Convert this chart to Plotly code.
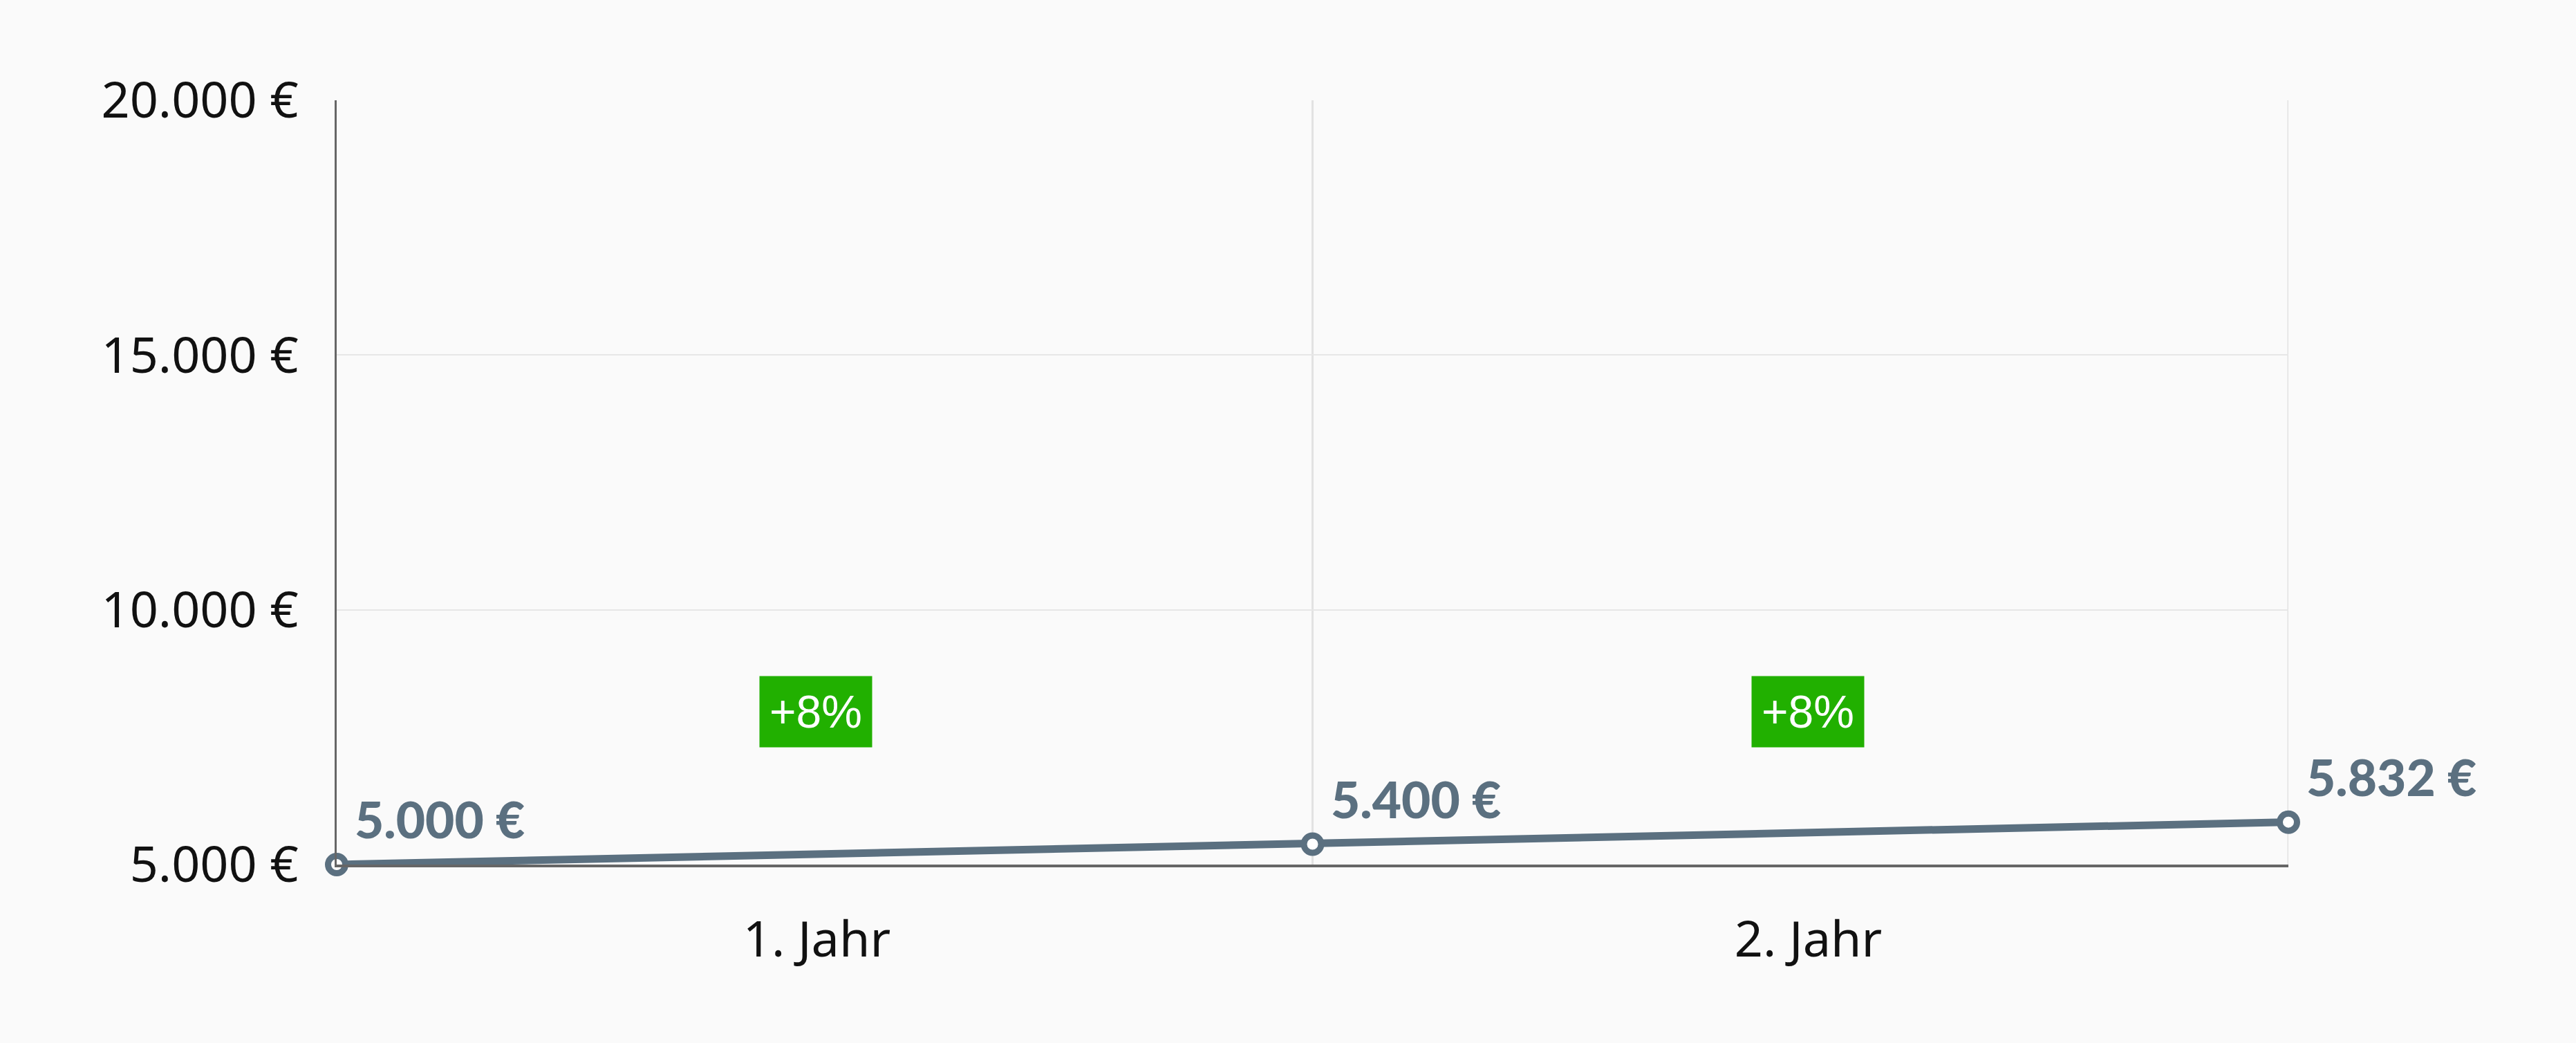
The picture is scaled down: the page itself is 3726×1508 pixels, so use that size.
import plotly.graph_objects as go

# Data
years_x = [0, 1, 2]
values = [5000, 5400, 5832]
value_labels = ["5.000 €", "5.400 €", "5.832 €"]
growth_x = [0.5, 1.5]
growth_y = [8000, 8000]
growth_labels = ["+8%", "+8%"]
xtick_vals = [0.492, 1.508]
xtick_text = ["1. Jahr", "2. Jahr"]
ytick_vals = [5000, 10000, 15000, 20000]
ytick_text = ["5.000 €", "10.000 €", "15.000 €", "20.000 €"]

LINE = "#5b7080"
GREEN = "#21b000"
BG = "#fafafa"

fig = go.Figure()
fig.add_trace(go.Scatter(
    x=years_x, y=values, mode="lines+markers",
    line=dict(color=LINE, width=11),
    marker=dict(size=25, color="white", line=dict(color=LINE, width=9)),
    cliponaxis=False, showlegend=False, hoverinfo="skip",
))

annotations = []
for x, y, t in zip(years_x, values, value_labels):
    annotations.append(dict(
        x=x, y=y, xref="x", yref="y", text=t, showarrow=False,
        xanchor="left", yanchor="middle", xshift=24, yshift=66,
        font=dict(family="Lato", size=73, color=LINE, weight=900),
    ))
box_shifts = [-13, 11]
for x, y, t, s in zip(growth_x, growth_y, growth_labels, box_shifts):
    annotations.append(dict(
        x=x, y=y, xref="x", yref="y", text=t, showarrow=False,
        xanchor="center", yanchor="middle", xshift=s,
        bgcolor=GREEN, borderpad=14,
        font=dict(family="Liberation Sans", size=66, color="white"),
    ))

fig.update_layout(
    width=3726, height=1508,
    paper_bgcolor=BG, plot_bgcolor=BG,
    margin=dict(l=487, r=416, t=145, b=258),
    annotations=annotations,
    font=dict(family="Noto Sans", size=72, color="#111111"),
    hovermode=False,
)
fig.update_xaxes(
    range=[0, 2], tickvals=xtick_vals, ticktext=xtick_text,
    showgrid=False, zeroline=False,
    showline=True, linecolor="#666666", linewidth=4,
    ticks="", ticklabelstandoff=43,
    tickfont=dict(family="Noto Sans", size=72, color="#111111"),
)
# vertical gridlines at year boundaries
for xv in [1, 2]:
    fig.add_shape(type="line", xref="x", yref="paper", x0=xv, x1=xv, y0=0, y1=1,
                  line=dict(color="#e2e2e2", width=3), layer="below")
fig.update_yaxes(
    range=[5000, 20000], tickvals=ytick_vals, ticktext=ytick_text,
    showgrid=True, gridcolor="#e6e6e6", gridwidth=2, zeroline=False,
    showline=True, linecolor="#666666", linewidth=3,
    ticks="", ticklabelstandoff=38,
    tickfont=dict(family="Noto Sans", size=72, color="#111111"),
)

fig.write_html("out.html", config={"displayModeBar": False},
               post_script="document.body.style.margin='0';")
